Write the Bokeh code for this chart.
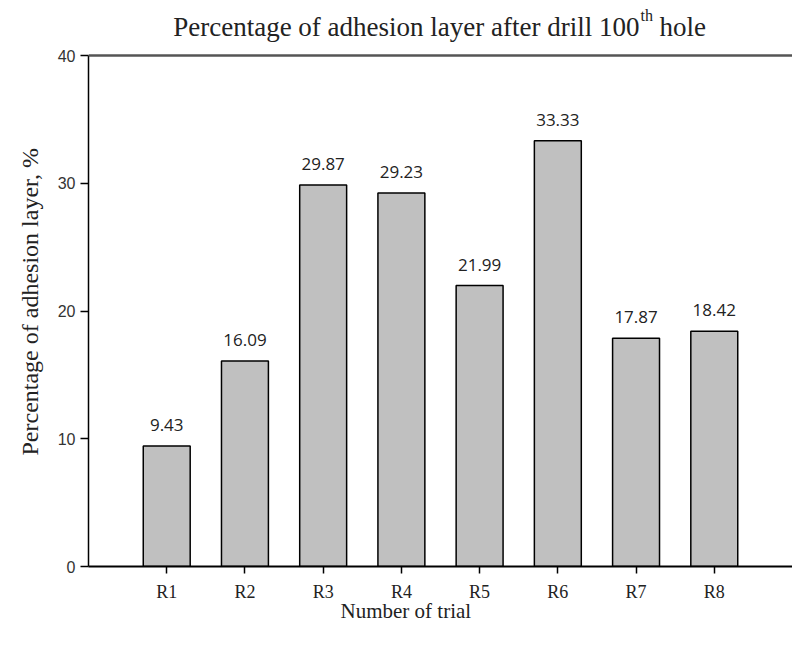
from bokeh.plotting import figure
from bokeh.models import (ColumnDataSource, Range1d, FactorRange, FixedTicker,
                          Label, LabelSet, Span, Title)
from bokeh.core.properties import value
from bokeh.embed import file_html
from bokeh.resources import INLINE

# ---- data ----
trials = ["R1", "R2", "R3", "R4", "R5", "R6", "R7", "R8"]
adhesion = [9.43, 16.09, 29.87, 29.23, 21.99, 33.33, 17.87, 18.42]
value_labels = [f"{v:.2f}" for v in adhesion]
y_ticks = [0, 10, 20, 30, 40]
y_max = 40

title_main = "Percentage of adhesion layer after drill 100"
title_sup = "th"
title_end = "hole"
x_title = "Number of trial"
y_title = "Percentage of adhesion layer, %"

SERIF = "Liberation Serif"
SANS = "Liberation Sans"
INK = "#222222"

src = ColumnDataSource(dict(trial=trials, value=adhesion, label=value_labels))

# frame: 88..792 horizontally, 5..566 vertically (40 units = 511 px)
p = figure(width=792, height=645,
           x_range=FactorRange(*trials, range_padding=0.5, range_padding_units="absolute"),
           y_range=Range1d(0, y_max * 561 / 511),
           output_backend="svg", toolbar_location=None,
           min_border_left=88, min_border_right=0, min_border_top=5, min_border_bottom=79)
p.outline_line_color = None
p.xgrid.visible = False
p.ygrid.visible = False

p.vbar(x="trial", top="value", bottom=0, width=0.6, source=src,
       fill_color="#c0c0c0", line_color="black", line_width=1.5)

p.add_layout(LabelSet(x="trial", y="value", text="label", source=src,
                      text_align="center", text_baseline="alphabetic", y_offset=15,
                      text_font=value("Open Sans"), text_font_size="17px", text_color=INK))

# top border line at 40
p.add_layout(Span(location=y_max, dimension="width", line_color="#555555", line_width=2.5))

# axes
xa = p.xaxis[0]
xa.axis_line_color = "black"
xa.axis_line_width = 2
xa.major_tick_out = 7
xa.major_tick_in = 0
xa.major_tick_line_width = 1.5
xa.major_label_standoff = 8
xa.major_label_text_font = SERIF
xa.major_label_text_font_size = "18px"
xa.major_label_text_color = INK

ya = p.yaxis[0]
ya.ticker = FixedTicker(ticks=y_ticks)
ya.bounds = (0, y_max)
ya.axis_line_color = "black"
ya.axis_line_width = 1.5
ya.major_tick_out = 8
ya.major_tick_in = 0
ya.major_tick_line_width = 1.5
ya.minor_tick_line_color = None
ya.major_label_standoff = 5
ya.major_label_text_font = SANS
ya.major_label_text_font_size = "16px"
ya.major_label_text_color = "#333333"

# y axis title, placed along the 0..40 part of the axis
p.add_layout(Title(text=y_title, align="left", offset=111, standoff=23,
                   text_font=SERIF, text_font_size="24px", text_font_style="normal",
                   text_color=INK), "left")

# title pieces (screen units relative to the frame's bottom-left corner)
p.add_layout(Label(x=551, y=540, x_units="screen", y_units="screen", text=title_main,
                   text_align="right", text_baseline="alphabetic",
                   text_font=SERIF, text_font_size="27px", text_color=INK))
p.add_layout(Label(x=552, y=551, x_units="screen", y_units="screen", text=title_sup,
                   text_align="left", text_baseline="alphabetic",
                   text_font=SERIF, text_font_size="16px", text_color=INK))
p.add_layout(Label(x=571, y=540, x_units="screen", y_units="screen", text=title_end,
                   text_align="left", text_baseline="alphabetic",
                   text_font=SERIF, text_font_size="27px", text_color=INK))

# x axis title
p.add_layout(Title(text=x_title, align="left", offset=252, standoff=-16,
                   text_font=SERIF, text_font_size="21px", text_font_style="normal",
                   text_color=INK), "below")

open("out.html", "w").write(file_html(p, INLINE))
